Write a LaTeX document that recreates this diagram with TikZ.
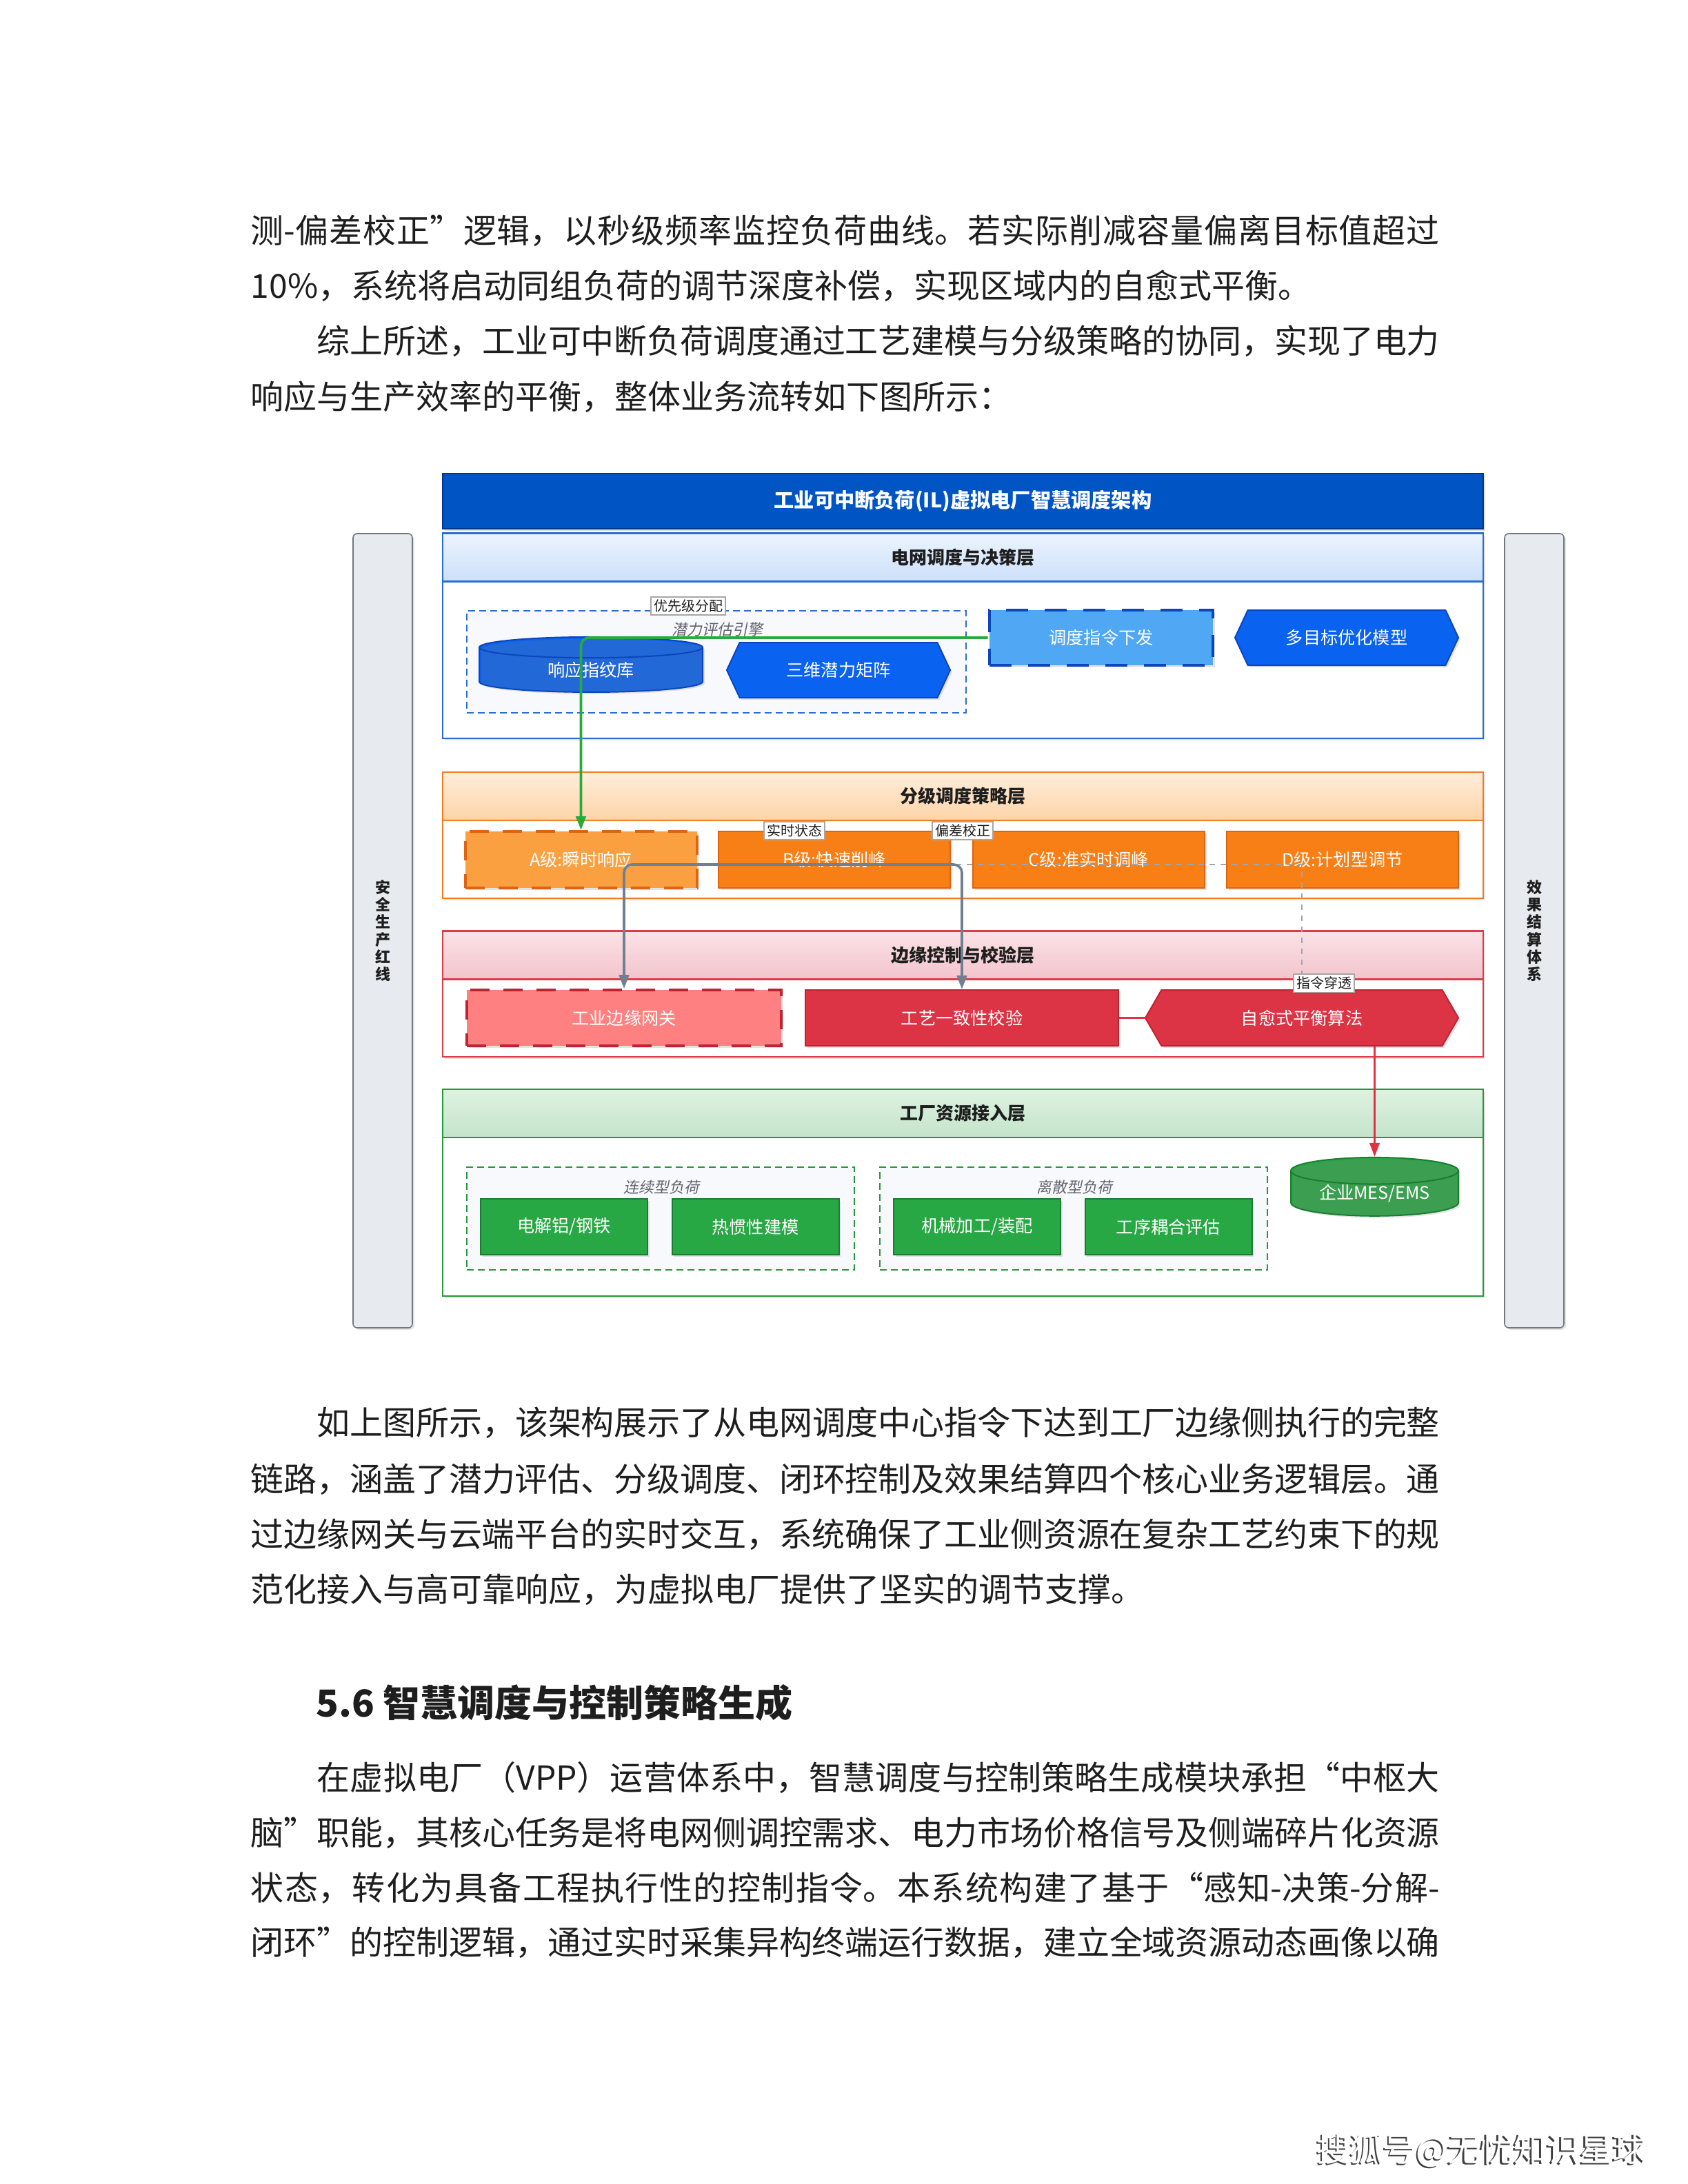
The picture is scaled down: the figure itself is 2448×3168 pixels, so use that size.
\documentclass[tikz,border=0pt]{standalone}
\usepackage{fontspec}
\setmainfont{Noto Sans CJK SC}
\newfontfamily\slantcjk[FakeSlant=0.2]{Noto Sans CJK SC}
\XeTeXlinebreaklocale "zh"
\XeTeXlinebreakskip=0pt plus 3pt minus 0.3pt
\usetikzlibrary{arrows.meta,shapes.geometric,shapes.symbols,shadows}
\definecolor{ink}{RGB}{30,30,30}
\definecolor{titleblue}{RGB}{0,84,196}
\definecolor{titleedge}{RGB}{0,55,140}
\definecolor{gridblue}{RGB}{40,110,210}
\definecolor{gridtop}{RGB}{236,244,255}
\definecolor{gridbot}{RGB}{204,224,250}
\definecolor{bluemain}{RGB}{10,98,240}
\definecolor{bluedark}{RGB}{10,70,190}
\definecolor{bluelight}{RGB}{80,168,245}
\definecolor{tierorange}{RGB}{240,125,35}
\definecolor{tiertop}{RGB}{255,238,218}
\definecolor{tierbot}{RGB}{253,212,168}
\definecolor{orangemain}{RGB}{248,126,22}
\definecolor{orangedark}{RGB}{220,100,20}
\definecolor{orangelight}{RGB}{250,160,64}
\definecolor{edgered}{RGB}{218,60,72}
\definecolor{edgetop}{RGB}{250,226,230}
\definecolor{edgebot}{RGB}{243,196,204}
\definecolor{redmain}{RGB}{220,52,68}
\definecolor{reddark}{RGB}{190,35,50}
\definecolor{redlight}{RGB}{255,128,128}
\definecolor{plantgreen}{RGB}{40,150,60}
\definecolor{planttop}{RGB}{222,242,226}
\definecolor{plantbot}{RGB}{196,228,202}
\definecolor{greenmain}{RGB}{40,167,69}
\definecolor{greendark}{RGB}{28,125,50}
\definecolor{flowgreen}{RGB}{40,170,60}
\definecolor{wire}{RGB}{112,128,144}
\definecolor{sidefill}{RGB}{231,234,238}
\definecolor{sideedge}{RGB}{115,120,128}
\definecolor{grpfill}{RGB}{248,249,252}
\definecolor{note}{RGB}{100,100,112}
\newcommand\fullln[1]{\parbox[b]{431bp}{\tolerance=9999\parfillskip=0pt #1}}
\newcommand\lastln[1]{\parbox[b]{431bp}{#1}}
\newcommand\ind{\leavevmode\kern24bp}
\tikzset{
  boxshadow/.style={drop shadow={opacity=0.22, shadow xshift=0.7bp, shadow yshift=-0.7bp}},
  bodytxt/.style={anchor=base west, inner sep=0pt, text=ink, font=\fontsize{12bp}{16bp}\selectfont},
  headtxt/.style={anchor=base west, inner sep=0pt, text=ink, font=\fontsize{13.5bp}{16bp}\selectfont\bfseries},
  footer/.style={anchor=base west, inner sep=0pt, font=\fontsize{12bp}{14bp}\selectfont},
  titlebar/.style={draw=titleedge, fill=titleblue, text=white, minimum width=377.25bp, minimum height=20bp, inner sep=0pt, boxshadow, font=\fontsize{7.3bp}{8bp}\selectfont\bfseries},
  sidebar/.style={draw=sideedge, fill=sidefill, rounded corners=1.5bp, minimum width=21.5bp, minimum height=288bp, inner sep=0pt, align=center, boxshadow, text=ink, font=\fontsize{5.5bp}{6.3bp}\selectfont\bfseries},
  layer/.style={draw=#1, line width=0.6bp, fill=white, minimum width=377.25bp, inner sep=0pt, boxshadow},
  band/.style n args={3}{draw=#1, line width=0.6bp, top color=#2, bottom color=#3, minimum width=377.25bp, minimum height=17.5bp, inner sep=0pt, text=ink, font=\fontsize{6.5bp}{7.5bp}\selectfont\bfseries},
  grp/.style={draw=#1, dash pattern=on 2.5bp off 1.5bp, line width=0.5bp, fill=grpfill, inner sep=0pt},
  grptitle/.style={inner sep=0pt, text=note, font=\fontsize{5.5bp}{6bp}\selectfont\slantcjk},
  box/.style={draw, line width=0.5bp, inner sep=0pt, minimum width=81bp, minimum height=20bp, text=white, boxshadow, font=\fontsize{6.3bp}{7bp}\selectfont},
  hexbox/.style={box, shape=signal, signal to=west and east, signal pointer angle=130},
  dbbox/.style={box, shape=cylinder, shape border rotate=90, aspect=0.24, cylinder uses custom fill, cylinder body fill=#1, cylinder end fill=#1},
  bigdash/.style={line width=1.2bp, dash pattern=on 8bp off 6bp},
  middash/.style={line width=1bp, dash pattern=on 7bp off 5bp},
  tag/.style={draw=gray!70, fill=white, inner sep=1bp, text=ink, font=\fontsize{5bp}{6bp}\selectfont},
  greenflow/.style={draw=flowgreen, line width=0.9bp, rounded corners=3bp, -{Triangle[length=5bp,width=3.6bp]}},
  grayflow/.style={draw=wire, line width=0.9bp, rounded corners=3bp, -{Triangle[length=5bp,width=3.6bp]}},
  passflow/.style={draw=wire!70, line width=0.6bp, dash pattern=on 2bp off 2bp},
  redline/.style={draw=redmain, line width=0.9bp},
  redflow/.style={draw=redmain, line width=0.6bp, -{Triangle[length=5bp,width=3.6bp]}},
}

\begin{document}
\begin{tikzpicture}[x=0.25bp, y=-0.25bp]
  \useasboundingbox (0,0) rectangle (2448,3168);

  % text above the figure
  \node[bodytxt] (p1a) at (363,352) {\fullln{测-偏差校正”逻辑，以秒级频率监控负荷曲线。若实际削减容量偏离目标值超过}};
  \node[bodytxt] (p1b) at (363,432) {\lastln{10\%，系统将启动同组负荷的调节深度补偿，实现区域内的自愈式平衡。}};
  \node[bodytxt] (p2a) at (363,512) {\fullln{\ind 综上所述，工业可中断负荷调度通过工艺建模与分级策略的协同，实现了电力}};
  \node[bodytxt] (p2b) at (363,593) {\lastln{响应与生产效率的平衡，整体业务流转如下图所示：}};

  % frame: title and side bars
  \node[titlebar] (title) at (1396.5,727) {工业可中断负荷(IL)虚拟电厂智慧调度架构};
  \node[sidebar] (safety) at (555,1350) {安\\全\\生\\产\\红\\线};
  \node[sidebar] (settle) at (2225,1350) {效\\果\\结\\算\\体\\系};

  % grid dispatch layer
  \node[layer=gridblue, minimum height=74.25bp] (gridlayer) at (1396.5,922.5) {};
  \node[band={gridblue}{gridtop}{gridbot}] (gridhead) at (1396.5,808.5) {电网调度与决策层};
  \node[grp=gridblue, minimum width=181bp, minimum height=37bp] (engine) at (1039,960) {};
  \node[grptitle] (enginetitle) at (1040,913) {潜力评估引擎};
  \node[dbbox=bluemain, draw=bluedark] (fingerprint) at (857,972) {响应指纹库};
  \node[hexbox, fill=bluemain, draw=bluedark] (matrix) at (1216,972) {三维潜力矩阵};
  \node[box, fill=bluelight, draw=bluedark, bigdash] (command) at (1597,925) {调度指令下发};
  \node[hexbox, fill=bluemain, draw=bluedark] (optimize) at (1953,925) {多目标优化模型};

  % tiered strategy layer
  \node[layer=tierorange, minimum height=45.75bp] (tierlayer) at (1396.5,1211.5) {};
  \node[band={tierorange}{tiertop}{tierbot}] (tierhead) at (1396.5,1155) {分级调度策略层};
  \node[box, fill=orangelight, draw=orangedark, middash, minimum width=84bp, minimum height=20.5bp] (tiera) at (842.5,1247) {A级:瞬时响应};
  \node[box, fill=orangemain, draw=orangedark, minimum width=84bp, minimum height=20.5bp] (tierb) at (1210,1247) {B级:快速削峰};
  \node[box, fill=orangemain, draw=orangedark, minimum width=84bp, minimum height=20.5bp] (tierc) at (1579,1247) {C级:准实时调峰};
  \node[box, fill=orangemain, draw=orangedark, minimum width=84bp, minimum height=20.5bp] (tierd) at (1947,1247) {D级:计划型调节};

  % edge control layer
  \node[layer=edgered, minimum height=45.5bp] (edgelayer) at (1396.5,1442) {};
  \node[band={edgered}{edgetop}{edgebot}] (edgehead) at (1396.5,1385.5) {边缘控制与校验层};
  \node[box, fill=redlight, draw=reddark, middash, minimum width=114bp, minimum height=20.25bp] (gateway) at (905,1476.5) {工业边缘网关};
  \node[box, fill=redmain, draw=reddark, minimum width=113.5bp, minimum height=20.25bp] (check) at (1395,1476.5) {工艺一致性校验};
  \node[hexbox, fill=redmain, draw=reddark, minimum width=113.5bp, minimum height=20.25bp, signal pointer angle=120] (heal) at (1888,1476.5) {自愈式平衡算法};

  % plant access layer
  \node[layer=plantgreen, minimum height=75bp] (plantlayer) at (1396.5,1730) {};
  \node[band={plantgreen}{planttop}{plantbot}] (planthead) at (1396.5,1615) {工厂资源接入层};
  \node[grp=plantgreen, minimum width=140.5bp, minimum height=37.25bp] (continuous) at (958,1767.5) {};
  \node[grptitle] (conttitle) at (959,1722) {连续型负荷};
  \node[grp=plantgreen, minimum width=140.5bp, minimum height=37.25bp] (discrete) at (1557,1767.5) {};
  \node[grptitle] (disctitle) at (1558,1722) {离散型负荷};
  \node[box, fill=greenmain, draw=greendark, minimum width=60.5bp, minimum height=20.25bp] (smelt) at (818,1779.5) {电解铝/钢铁};
  \node[box, fill=greenmain, draw=greendark, minimum width=60.5bp, minimum height=20.25bp] (inertia) at (1095.5,1779.5) {热惯性建模};
  \node[box, fill=greenmain, draw=greendark, minimum width=60.5bp, minimum height=20.25bp] (machining) at (1417,1779.5) {机械加工/装配};
  \node[box, fill=greenmain, draw=greendark, minimum width=60.5bp, minimum height=20.25bp] (coupling) at (1694.5,1779.5) {工序耦合评估};
  \node[dbbox=greenmain, draw=greendark, minimum width=60.75bp] (mes) at (1993.5,1731.5) {企业MES/EMS};

  % connectors
  \draw[greenflow] (command.west) -| (tiera.north);
  \draw[passflow] ([yshift=-1.75bp]tierb.center) -| (heal.north);
  \draw[grayflow] ([yshift=-1.75bp]tierb.center) -| (gateway.north);
  \draw[grayflow] ([yshift=-1.75bp]tierb.center) -| (check.north);
  \draw[redline] (check.east) -- (heal.west);
  \draw[redflow] (heal.south -| mes.north) -- (mes.north);
  \node[tag] (priority) at (998,879) {优先级分配};
  \node[tag] (realtime) at (1152,1205) {实时状态};
  \node[tag] (deviation) at (1396,1205) {偏差校正};
  \node[tag] (pierce) at (1920,1426) {指令穿透};

  % text below the figure
  \node[bodytxt] (p3a) at (363,2081) {\fullln{\ind 如上图所示，该架构展示了从电网调度中心指令下达到工厂边缘侧执行的完整}};
  \node[bodytxt] (p3b) at (363,2163) {\fullln{链路，涵盖了潜力评估、分级调度、闭环控制及效果结算四个核心业务逻辑层。通}};
  \node[bodytxt] (p3c) at (363,2243) {\fullln{过边缘网关与云端平台的实时交互，系统确保了工业侧资源在复杂工艺约束下的规}};
  \node[bodytxt] (p3d) at (363,2323) {\lastln{范化接入与高可靠响应，为虚拟电厂提供了坚实的调节支撑。}};
  \node[headtxt] (sec) at (458,2490) {5.6 智慧调度与控制策略生成};
  \node[bodytxt] (p4a) at (363,2596) {\fullln{\ind 在虚拟电厂（VPP）运营体系中，智慧调度与控制策略生成模块承担“中枢大}};
  \node[bodytxt] (p4b) at (363,2676) {\fullln{脑”职能，其核心任务是将电网侧调控需求、电力市场价格信号及侧端碎片化资源}};
  \node[bodytxt] (p4c) at (363,2756) {\fullln{状态，转化为具备工程执行性的控制指令。本系统构建了基于“感知-决策-分解-}};
  \node[bodytxt] (p4d) at (363,2835) {\fullln{闭环”的控制逻辑，通过实时采集异构终端运行数据，建立全域资源动态画像以确}};
  \node[footer] (sohu) at (1909,3135) {\makebox[0pt][l]{\kern-0.6bp\raisebox{-0.6bp}{\color{black!75}搜狐号@无忧知识星球}}\color{white}搜狐号@无忧知识星球};
\end{tikzpicture}
\end{document}
